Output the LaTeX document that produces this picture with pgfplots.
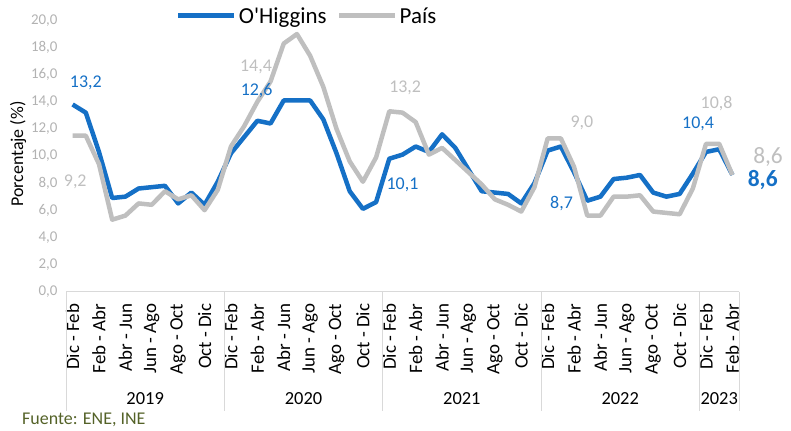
\documentclass[border=0pt]{standalone}
\usepackage{fontspec}
\setmainfont{Carlito}
\usepackage{pgfplots}
\usepackage{pgfplotstable}
\pgfplotsset{compat=1.18}
\definecolor{ohblue}{RGB}{21,112,198}
\definecolor{paisgray}{RGB}{191,191,191}
\definecolor{ticklab}{RGB}{178,178,178}
\definecolor{sepgray}{RGB}{217,217,217}
\definecolor{fuente}{RGB}{84,98,40}

\pgfplotstableread{
x ohiggins pais
0 13.8 11.5
1 13.2 11.5
2 10.3 9.4
3 6.9 5.3
4 7.0 5.6
5 7.6 6.5
6 7.7 6.4
7 7.8 7.4
8 6.5 6.8
9 7.3 7.1
10 6.4 6.0
11 8.1 7.5
12 10.2 10.7
13 11.4 12.2
14 12.6 14.0
15 12.4 15.5
16 14.1 18.3
17 14.1 19.0
18 14.1 17.4
19 12.7 15.1
20 10.2 12.0
21 7.4 9.6
22 6.1 8.1
23 6.6 9.9
24 9.8 13.3
25 10.1 13.2
26 10.7 12.5
27 10.3 10.1
28 11.6 10.6
29 10.6 9.7
30 9.0 8.8
31 7.4 7.9
32 7.3 6.8
33 7.2 6.4
34 6.5 5.9
35 8.0 7.7
36 10.4 11.3
37 10.7 11.3
38 8.8 9.2
39 6.7 5.6
40 7.0 5.6
41 8.3 7.0
42 8.4 7.0
43 8.6 7.1
44 7.3 5.9
45 7.0 5.8
46 7.2 5.7
47 8.7 7.6
48 10.3 10.9
49 10.5 10.9
50 8.6 8.6
}\datatable

\begin{document}
\begin{tikzpicture}
\useasboundingbox (0,0) rectangle (791bp,431bp);
\begin{axis}[
  at={(66bp,139.5bp)}, anchor=south west,
  scale only axis, width=673bp, height=271bp,
  xmin=-0.5, xmax=50.5, ymin=0, ymax=20,
  clip=false,
  axis line style={draw=none},
  tick style={draw=none},
  ytick={0,2,...,20},
  /pgf/number format/fixed,
  /pgf/number format/fixed zerofill,
  /pgf/number format/precision=1,
  /pgf/number format/use comma,
  /pgf/number format/assume math mode=true,
  yticklabel style={text=ticklab, font=\fontsize{15}{18}\selectfont, xshift=-5bp},
  xtick={0,2,...,50},
  xticklabels={Dic - Feb, Feb - Abr, Abr - Jun, Jun - Ago, Ago - Oct, Oct - Dic,
               Dic - Feb, Feb - Abr, Abr - Jun, Jun - Ago, Ago - Oct, Oct - Dic,
               Dic - Feb, Feb - Abr, Abr - Jun, Jun - Ago, Ago - Oct, Oct - Dic,
               Dic - Feb, Feb - Abr, Abr - Jun, Jun - Ago, Ago - Oct, Oct - Dic,
               Dic - Feb, Feb - Abr},
  xticklabel style={rotate=90, anchor=east, inner sep=0pt, font=\fontsize{19}{21}\selectfont, text=black},
  xticklabel shift=12bp,
  ylabel={Porcentaje (\%)},
  ylabel style={at={(axis description cs:-0.0713,0.507)}, anchor=center, font=\fontsize{18}{20}\selectfont},
  legend columns=2,
  legend style={at={(axis description cs:0.163,1.0166)}, anchor=west, draw=none, fill=none,
    inner sep=0pt, font=\fontsize{23}{26}\selectfont,
    /tikz/every even column/.append style={column sep=8bp}},
  legend image code/.code={\draw[#1, line width=5bp] (0bp,0bp) -- (56bp,0bp);},
]
\draw[sepgray, line width=1.2bp] (axis cs:-0.5,0) -- (axis cs:50.5,0);
\draw[sepgray, line width=1bp] (axis cs:-0.5,0) -- ++(0bp,-119bp);
\draw[sepgray, line width=1bp] (axis cs:11.5,0) -- ++(0bp,-119bp);
\draw[sepgray, line width=1bp] (axis cs:23.5,0) -- ++(0bp,-119bp);
\draw[sepgray, line width=1bp] (axis cs:35.5,0) -- ++(0bp,-119bp);
\draw[sepgray, line width=1bp] (axis cs:47.5,0) -- ++(0bp,-119bp);
\draw[sepgray, line width=1bp] (axis cs:50.5,0) -- ++(0bp,-119bp);
\addplot[ohblue, line width=4.5bp, line join=round] table[x=x,y=ohiggins]{\datatable};
\addlegendentry{O\textquotesingle Higgins}
\addplot[paisgray, line width=4.5bp, line join=round] table[x=x,y=pais]{\datatable};
\addlegendentry{País}

\node[font=\fontsize{18.5}{20}\selectfont, yshift=-107bp] at (axis cs:5.5,0) {2019};
\node[font=\fontsize{18.5}{20}\selectfont, yshift=-107bp] at (axis cs:17.5,0) {2020};
\node[font=\fontsize{18.5}{20}\selectfont, yshift=-107bp] at (axis cs:29.5,0) {2021};
\node[font=\fontsize{18.5}{20}\selectfont, yshift=-107bp] at (axis cs:41.5,0) {2022};
\node[font=\fontsize{18.5}{20}\selectfont, yshift=-107bp] at (axis cs:49,0) {2023};

\node[text=ohblue, font=\fontsize{18}{20}\selectfont] at (axis cs:1.0,15.4) {13,2};
\node[text=paisgray, font=\fontsize{18}{20}\selectfont] at (axis cs:0.2,8.1) {9,2};
\node[text=paisgray, font=\fontsize{18}{20}\selectfont] at (axis cs:13.9,16.6) {14,4};
\node[text=ohblue, font=\fontsize{18}{20}\selectfont] at (axis cs:13.95,14.8) {12,6};
\node[text=paisgray, font=\fontsize{18}{20}\selectfont] at (axis cs:25.2,15.0) {13,2};
\node[text=ohblue, font=\fontsize{18}{20}\selectfont] at (axis cs:25.0,7.86) {10,1};
\node[text=paisgray, font=\fontsize{18}{20}\selectfont] at (axis cs:38.6,12.46) {9,0};
\node[text=ohblue, font=\fontsize{18}{20}\selectfont] at (axis cs:37.05,6.46) {8,7};
\node[text=paisgray, font=\fontsize{18}{20}\selectfont] at (axis cs:48.8,13.9) {10,8};
\node[text=ohblue, font=\fontsize{18}{20}\selectfont] at (axis cs:47.4,12.4) {10,4};
\node[text=paisgray, inner sep=0pt, font=\fontsize{23.5}{26}\selectfont] at (axis cs:52.7,9.95) {8,6};
\node[text=ohblue, inner sep=0pt, font=\fontsize{23.5}{26}\selectfont\bfseries] at (axis cs:52.3,8.2) {8,6};
\end{axis}
\node[anchor=west, inner sep=0pt, text=fuente, font=\fontsize{18}{20}\selectfont] at (22bp,11bp) {Fuente: ENE, INE};
\end{tikzpicture}
\end{document}
